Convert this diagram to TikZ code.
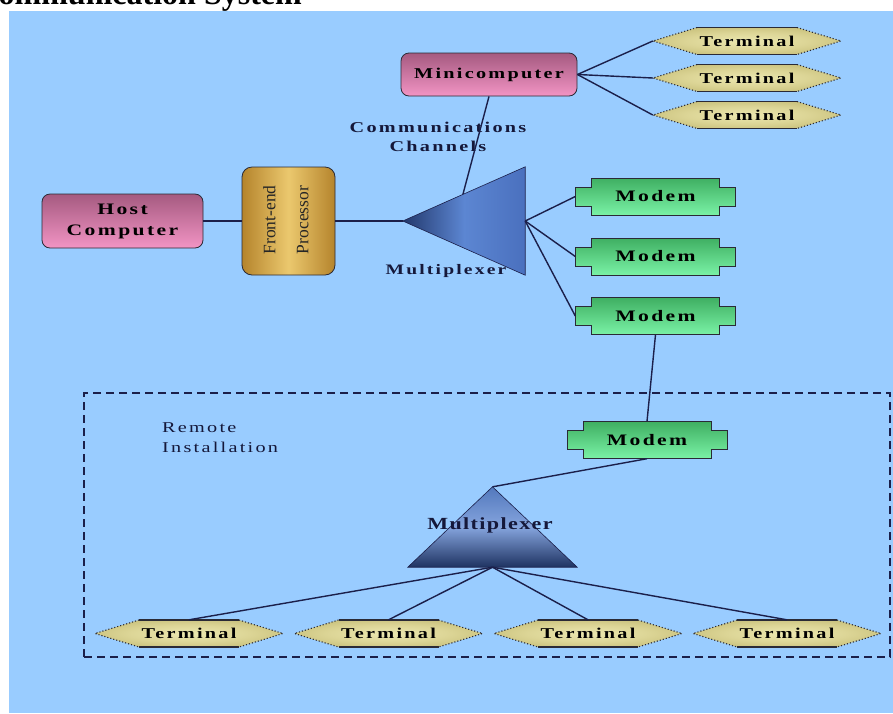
\documentclass[tikz,border=0pt]{standalone}
\usepackage{fontspec}
\setmainfont{Liberation Serif}
\newfontfamily\lblfont{Liberation Serif}[LetterSpace=15,FakeStretch=1.35]
\newfontfamily\lbltight{Liberation Serif}[LetterSpace=8,FakeStretch=1.3]
\usetikzlibrary{calc}

\definecolor{bgblue}{HTML}{99CCFF}
\definecolor{wirecol}{HTML}{1B1F4A}
\definecolor{edgecol}{HTML}{2A2A36}
\definecolor{pinktop}{HTML}{A55A80}
\definecolor{pinkbot}{HTML}{F294C4}
\definecolor{goldedge}{HTML}{B5842C}
\definecolor{goldmid}{HTML}{EBC86E}
\definecolor{greentop}{HTML}{3FAF62}
\definecolor{greenbot}{HTML}{7AF2A6}
\definecolor{khakiin}{HTML}{ECE8B0}
\definecolor{khakimid}{HTML}{DCD596}
\definecolor{khakiout}{HTML}{A89E50}
\definecolor{muxdark}{HTML}{22386C}
\definecolor{muxmid}{HTML}{5C86D2}
\definecolor{muxlight}{HTML}{4A70BE}
\definecolor{textnavy}{HTML}{15183A}

\pgfdeclareradialshading{termglow}{\pgfpoint{0bp}{0bp}}{color(0bp)=(khakiin); color(16bp)=(khakimid); color(50bp)=(khakiout)}

\tikzset{
  lbl/.style={font=\lblfont\bfseries\fontsize{15}{19}\selectfont, text=black, inner sep=0},
  plainlbl/.style={font=\lblfont\fontsize{15}{20}\selectfont, text=textnavy, inner sep=0},
  wire/.style={draw=wirecol, line width=1.4},
  pinkbox/.style={lbl, font=\lblfont\bfseries\fontsize{16}{21}\selectfont, align=center,
    rounded corners=8, draw=edgecol, line width=0.8, top color=pinktop, bottom color=pinkbot},
  fepbox/.style={rounded corners=10, draw=edgecol, line width=0.8,
    left color=goldedge, right color=goldedge, middle color=goldmid},
  hexdot/.style={draw=edgecol, line width=1.1, dotted},
  hexedge/.style={draw=edgecol, line width=1.6},
  modemshape/.style={draw=edgecol, line width=0.8, top color=greentop, bottom color=greenbot},
  dashbox/.style={draw=wirecol, line width=1.4, dash pattern=on 8pt off 5pt},
}

% hexagonal terminal: name, x, y
\newcommand\termhex[3]{%
  \begin{scope}[shift={(#2,#3)}]
    \shade[shading=termglow] (-94,0) -- (-50,-13.5) -- (50,-13.5) -- (94,0) -- (50,13.5) -- (-50,13.5) -- cycle;
    \draw[hexdot] (-50,-13.5) -- (-94,0) -- (-50,13.5) (50,-13.5) -- (94,0) -- (50,13.5);
    \draw[hexedge] (-50,-13.5) -- (50,-13.5) (-50,13.5) -- (50,13.5);
    \node[lbl, minimum width=188, minimum height=27] (#1) at (0,0) {Terminal};
  \end{scope}}

% modem with side tabs: name, x, y
\newcommand\modembox[3]{%
  \begin{scope}[shift={(#2,#3)}]
    \shadedraw[modemshape] (-64,-18.5) -- (64,-18.5) -- (64,-9.5) -- (80,-9.5) -- (80,9.5) -- (64,9.5)
      -- (64,18.5) -- (-64,18.5) -- (-64,9.5) -- (-80,9.5) -- (-80,-9.5) -- (-64,-9.5) -- cycle;
    \node[lbl, font=\lblfont\bfseries\fontsize{16}{19}\selectfont, minimum width=160, minimum height=37] (#1) at (0,0) {Modem};
  \end{scope}}

\begin{document}
\begin{tikzpicture}[x=1pt,y=-1pt]
\useasboundingbox (0,0) rectangle (893,713);
\clip (0,0) rectangle (893,713);

% page and heading
\fill[bgblue] (9,11) rectangle (893,713);
\node[anchor=base east, inner sep=0, font=\bfseries\fontsize{32}{36}\selectfont] (title) at (302,4.5) {Communication System};

% remote installation frame
\node[dashbox, minimum width=806, minimum height=264, inner sep=0] (remote) at (487,525) {};
\node[plainlbl, anchor=north west, align=left] (remlbl) at (162,422) {Remote\\Installation};

% central site
\node[pinkbox, minimum width=161, minimum height=54] (host) at (122.5,221) {Host\\Computer};
\node[fepbox, minimum width=93, minimum height=108] (fep) at (288.5,221) {};
\node[rotate=90, align=center, inner sep=0, font=\fontsize{17.5}{33}\selectfont, text=black!85] (feplbl) at (286,220) {Front-end\\Processor};

\node[minimum width=122, minimum height=108, inner sep=0] (mux) at (464,221) {};
\shadedraw[draw=wirecol, line width=0.6, left color=muxdark, right color=muxlight, middle color=muxmid]
  (mux.west) -- (mux.north east) -- (mux.south east) -- cycle;
\coordinate (muxtop) at (463,194);
\node[lbl, font=\lblfont\bfseries\fontsize{14.5}{19}\selectfont, text=textnavy] (muxlbl) at (446,271) {Multiplexer};

\node[lbl, align=center, text=textnavy] (chanlbl) at (438,137) {Communications\\Channels};

\node[pinkbox, font=\lblfont\bfseries\fontsize{15}{19}\selectfont, minimum width=176, minimum height=43] (mini) at (489,74.5) {Minicomputer};

\termhex{ta}{747}{41}
\termhex{tb}{747}{78}
\termhex{tc}{747}{115}

\modembox{ma}{655.5}{196.5}
\modembox{mb}{655.5}{256.5}
\modembox{mc}{655.5}{316}

% remote site
\modembox{rm}{647}{440}
\node[minimum width=169, minimum height=80, inner sep=0] (rmux) at (492.5,527) {};
\shadedraw[draw=wirecol, line width=0.6, top color=muxmid!90!black, bottom color=muxdark!90!black, middle color=muxmid!75!white]
  (rmux.north) -- (rmux.south east) -- (rmux.south west) -- cycle;
\node[lbl, font=\lbltight\bfseries\fontsize{17}{20}\selectfont, text=textnavy] (rmuxlbl) at (490,525) {Multiplexer};

\termhex{ra}{189}{633.5}
\termhex{rb}{388.5}{633.5}
\termhex{rc}{588}{633.5}
\termhex{rd}{787}{633.5}

% connectors
\draw[wire] (host.east) -- (fep.west);
\draw[wire] (fep.east) -- (mux.west);
\draw[wire] (muxtop) -- (mini.south);
\draw[wire] (mini.east) -- (ta.west);
\draw[wire] (mini.east) -- (tb.west);
\draw[wire] (mini.east) -- (tc.west);
\draw[wire] (mux.east) -- (ma.west);
\draw[wire] (mux.east) -- (mb.west);
\draw[wire] (mux.east) -- (mc.west);
\draw[wire] (mc.south) -- (rm.north);
\draw[wire] (rm.south) -- (rmux.north);
\draw[wire] (rmux.south) -- (ra.north);
\draw[wire] (rmux.south) -- (rb.north);
\draw[wire] (rmux.south) -- (rc.north);
\draw[wire] (rmux.south) -- (rd.north);
\end{tikzpicture}
\end{document}
